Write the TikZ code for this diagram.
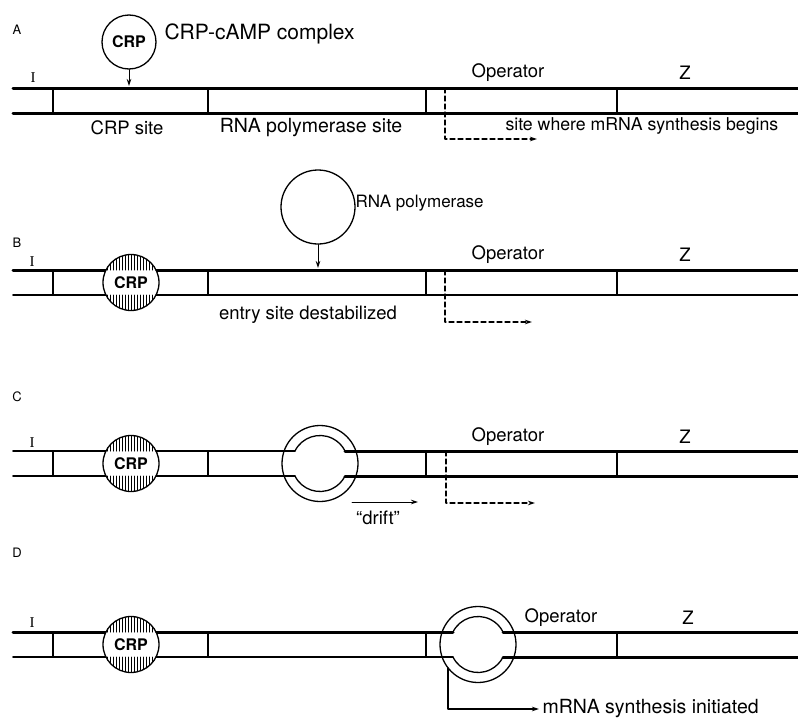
\documentclass[tikz,border=0pt]{standalone}
\usepackage{fontspec}
\setmainfont{TeX Gyre Heros}
\newfontfamily\romanI{Liberation Serif}
\usetikzlibrary{arrows.meta}
\begin{document}
\begin{tikzpicture}[x=1pt,y=-1pt,>=stealth,font=\fontsize{18.5}{21}\selectfont,line join=round,line cap=round,
	strand/.style={line width=3pt},
	weak/.style={line width=1.7pt},
	sep/.style={line width=1.1pt},
	tss/.style={line width=1.3pt,dash pattern=on 5pt off 3pt},
	tip/.style={-{Stealth[length=7pt,width=4.5pt]}},
	panel/.style={font=\fontsize{13}{15}\selectfont},
	gene/.style={font=\fontsize{15}{17}\romanI},
	ball/.style={circle,draw,line width=1.3pt,inner sep=0pt}]
	\useasboundingbox (0,0) rectangle (798,720);
	% A
	\node[panel] (lblA) at (17,30) {A};
	\node[gene] (geneA) at (33,78) {I};
	\draw[strand] (13,88)--(798,88) (13,113)--(798,113);
	\foreach \x in {53,208,426,617} \draw[sep] (\x,88)--(\x,113);
	\node[ball,minimum size=54pt,font=\fontsize{16}{18}\bfseries] (crpA) at (129,42) {CRP};
	\node[anchor=west,font=\fontsize{21}{24}\selectfont] (cmplxA) at (161,34) {CRP-cAMP complex};
	\coordinate (siteA) at (129,86);
	\draw[tip,line width=1pt] (crpA)--(siteA);
	\node (crpsiteA) at (127,128) {CRP site};
	\node[font=\fontsize{19.5}{22}\selectfont] (polsiteA) at (311,128) {RNA polymerase site};
	\node (opA) at (508,73) {Operator};
	\node (zA) at (685,73) {Z};
	\node[anchor=west,font=\fontsize{17.7}{20}\selectfont] (startA) at (502,126) {site where mRNA synthesis begins};
	\coordinate (tssA) at (445,88); \coordinate (runA) at (537,139);
	\draw[tss,tip] (tssA) |- (runA);
	% B
	\node[panel] (lblB) at (17,243) {B};
	\node[gene] (geneB) at (32,262) {I};
	\draw[strand] (13,270)--(798,270);
	\draw[weak] (13,295)--(798,295);
	\foreach \x in {53,208,426,617} \draw[sep] (\x,270)--(\x,295);
	\node[ball,minimum size=74pt] (polB) at (318,207) {};
	\node[anchor=west,font=\fontsize{17}{20}\selectfont] (polnameB) at (352,203) {RNA polymerase};
	\coordinate (entryB) at (318,268);
	\draw[tip,line width=1pt] (polB)--(entryB);
	\node (destabB) at (308,315) {entry site destabilized};
	\node (opB) at (508,255) {Operator};
	\node (zB) at (685,255) {Z};
	\coordinate (tssB) at (445,270); \coordinate (runB) at (532,322);
	\draw[tss,tip] (tssB) |- (runB);
	% C
	\node[panel] (lblC) at (17,397) {C};
	\node[gene] (geneC) at (32,443) {I};
	\draw[weak] (13,451)--(295,451) (13,476)--(295,476);
	\draw[strand] (345,451)--(798,451) (345,476)--(798,476);
	\foreach \x in {53,208,426,617} \draw[sep] (\x,451)--(\x,476);
	\node (opC) at (508,437) {Operator};
	\node (zC) at (685,437) {Z};
	\coordinate (tssC) at (446,451); \coordinate (runC) at (535,503);
	\draw[tss,tip] (tssC) |- (runC);
	\coordinate (driftC) at (352,502); \coordinate (driftendC) at (418,502);
	\draw[tip,line width=0.9pt] (driftC)--(driftendC);
	\node (drifttxtC) at (378,518) {``drift''};
	% D
	\node[panel] (lblD) at (17,553) {D};
	\node[gene] (geneD) at (32,623) {I};
	\draw[strand] (13,632)--(453,632);
	\draw[weak] (13,657)--(453,657);
	\draw[strand] (503,632)--(798,632) (503,657)--(798,657);
	\foreach \x in {53,208,426,617} \draw[sep] (\x,632)--(\x,657);
	\node (opD) at (561,618) {Operator};
	\node (zD) at (688,618) {Z};
	\node[anchor=west,font=\fontsize{19.5}{22}\selectfont] (mrnaD) at (539,709) {mRNA synthesis initiated};
	\coordinate (tssD) at (448,668);
	\draw[tip,line width=1.1pt] (tssD) |- (mrnaD.west);
	% CRP bound to its site
	\foreach \yt/\nm in {270/B,451/C,632/D}{
		\begin{scope}
			\clip (131,\yt+12.5) circle (28);
			\fill[white] (100,\yt-20) rectangle (162,\yt+45);
			\foreach \h in {104,107,...,158}
				\draw[line width=1pt] (\h,\yt-20)--(\h,\yt) (\h,\yt+25)--(\h,\yt+45);
		\end{scope}
		\draw[line width=1.3pt] (131,\yt+12.5) circle (28);
		\node[font=\fontsize{16}{18}\bfseries] (crp\nm) at (131,\yt+12.5) {CRP};
	}
	% open complex
	\foreach \cx/\yt in {320/451,478/632}{
		\draw[line width=1.3pt] (\cx,\yt+12.5) circle (38);
		\draw[line width=1.3pt] (\cx,\yt+12.5) ++(206.5:28) arc (206.5:333.5:28);
		\draw[line width=1.3pt] (\cx,\yt+12.5) ++(153.5:28) arc (153.5:26.5:28);
	}
\end{tikzpicture}
\end{document}
